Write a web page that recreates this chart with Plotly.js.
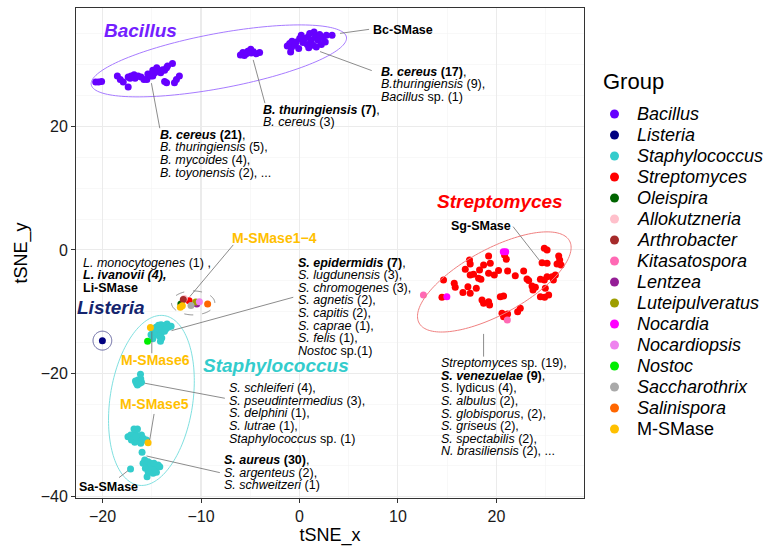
<!DOCTYPE html>
<html>
<head>
<meta charset="utf-8">
<script src="https://cdn.plot.ly/plotly-3.0.1.min.js"></script>
<style>html,body{margin:0;padding:0;background:#fff;}#chart{width:766px;height:546px;}</style>
</head>
<body>
<div id="chart"></div>
<script>
// ---------------- DATA (tSNE coordinates) ----------------
const groups = ['Bacillus','Listeria','Staphylococcus','Streptomyces','Oleispira','Allokutzneria','Arthrobacter','Kitasatospora','Lentzea','Luteipulveratus','Nocardia','Nocardiopsis','Nostoc','Saccharothrix','Salinispora','M-SMase'];
const groupColors = ['#6600FF','#000080','#33CCCC','#FF0000','#006400','#FFC0CB','#A52A2A','#FF69B4','#941E96','#9E9E00','#FF00FF','#EE82EE','#00EE00','#A9A9A9','#FF6600','#FFC000'];

const bacillusX = [-20.7,-20.4,-20.1,-18.5,-18.2,-17.9,-17.4,-17.2,-17.1,-16.8,-16.7,-16.4,-16.1,-15.8,-15.5,-15.4,-15.1,-14.9,-14.9,-14.7,-14.5,-14.4,-14.1,-13.9,-13.7,-13.5,-13.4,-12.9,-13.7,-13.5,-12.7,-12.5,-12.2,-17.4,
  -6.0,-5.75,-5.4,-5.25,-4.95,-4.7,-4.4,-4.05,-5.6,-4.9,
  -1.24,-1.0,-0.83,-0.76,-0.49,-0.33,-0.08,0.02,0.18,0.36,0.53,0.79,0.86,1.04,1.2,1.37,1.48,1.61,1.71,1.88,2.05,2.22,2.39,2.62,2.73,3.31,-0.9,0.94];
const bacillusY = [27.2,27.2,27.3,28.2,27.6,27.2,26.4,27.8,28.2,28.4,27.8,28.2,28.0,27.6,27.6,28.5,28.2,29.1,28.2,28.7,29.5,29.0,28.7,29.2,29.1,29.5,29.8,30.2,27.3,27.1,27.1,27.6,28.2,28.0,
  31.6,32.0,31.8,32.2,32.5,32.1,31.8,32.0,31.5,31.9,
  33.06,33.44,32.74,33.82,33.18,33.71,32.63,34.25,34.8,33.6,34.25,33.27,34.52,35.06,33.99,33.18,35.33,34.52,32.9,33.99,34.89,33.27,34.36,33.71,34.8,34.8,32.09,32.74];

const listeriaX = [-20.02];
const listeriaY = [-14.70];

const staphX = [-14.9,-14.57,-14.32,-14.06,-13.89,-13.65,-13.45,-13.31,-13.04,-14.39,-14.06,-13.71,-14.22,-13.99,-14.12,-14.73,-15.08,-14.9,-13.58,
  -16.33,-16.56,-16.12,-16.4,-16.66,-16.23,-16.46,-16.05,-16.15,-16.28,
  -17.42,-17.14,-16.91,-16.66,-16.46,-16.81,-16.33,-16.05,-15.89,-15.72,-16.4,-16.73,-16.12,-17.07,-15.99,-15.54,-16.63,
  -15.72,-15.89,-15.54,-15.38,-15.21,-15.65,-15.38,-15.04,-14.87,-14.7,-14.36,-15.11,-14.78,-14.53,-14.19,-15.48,
  -17.16];
const staphY = [-12.92,-12.53,-12.2,-12.11,-12.53,-12.2,-11.99,-12.53,-12.37,-13.18,-13.45,-13.18,-13.99,-14.26,-14.8,-13.73,-13.73,-14.38,-12.8,
  -21.35,-21.6,-20.91,-21.07,-21.23,-21.6,-21.88,-21.44,-20.15,-21.56,
  -30.26,-29.98,-30.52,-29.71,-29.01,-29.01,-30.26,-29.98,-30.52,-30.79,-30.96,-31.17,-31.33,-30.79,-32.79,-30.79,-30.31,
  -34.04,-34.57,-34.85,-34.31,-35.12,-35.38,-35.93,-35.66,-36.19,-35.38,-34.85,-34.57,-34.57,-36.03,-35.12,-36.74,
  -35.49];

const streptoX = [14.63,14.47,15.72,15.82,16.6,17.11,17.34,17.96,17.27,17.34,16.84,17.34,17.68,18.29,18.19,18.43,18.7,19.21,19.38,19.21,19.79,20.22,21.01,20.83,21.14,21.92,22.77,
  18.54,18.7,19.21,19.31,20.4,20.73,20.57,20.73,21.14,22.16,22.43,23.11,23.62,23.72,23.96,24.47,24.87,25.15,25.66,24.97,24.47,24.9,25.31,
  24.87,25.15,24.64,25.15,26.33,26.43,26.57,26.16,25.99,23.28,25.79,-11.21];
const streptoY = [-4.86,-7.67,-5.4,-6.05,-6.92,-5.95,-7.02,-6.21,-1.62,-2.27,-3.13,-4.05,-3.94,-3.24,-4.59,-4.75,-2.43,-0.97,-2.16,-3.78,-4.05,-3.35,-1.51,-0.81,-3.4,-4.17,-3.4,
  -8.1,-8.64,-8.38,-8.91,-7.57,-7.46,-10.26,-10.81,-10.37,-10.0,-9.45,-4.7,-5.83,-6.48,-6.05,-4.75,-4.86,-4.33,-4.33,-6.21,-7.57,-7.67,-7.29,
  0.28,0.0,-2.06,-2.16,-0.97,-1.62,-2.43,-2.27,-4.05,-4.94,-4.86,-8.22];

const oleispiraX = [-12.05];        const oleispiraY = [-8.75];
const allokutzneriaX = [-11.70];    const allokutzneriaY = [-7.86];
const arthrobacterX = [-11.80];     const arthrobacterY = [-8.02];
const kitasatosporaX = [12.59,21.11]; const kitasatosporaY = [-7.29,-11.35];
const lentzeaX = [-10.43];          const lentzeaY = [-8.78];
const luteipulveratusX = [-10.53];  const luteipulveratusY = [-8.43];
const nocardiaX = [14.97,20.7,20.95]; const nocardiaY = [-7.57,-0.3,-0.3];
const nocardiopsisX = [-10.17];     const nocardiopsisY = [-8.40];
const nostocX = [-15.43];           const nostocY = [-14.78];
const saccharothrixX = [-11.02];    const saccharothrixY = [-9.0];
const salinisporaX = [-9.33];       const salinisporaY = [-8.75];
const msmaseX = [-12.1,-11.9,-15.14,-15.38]; const msmaseY = [-9.3,-9.05,-12.56,-31.23];

const xTickVals = [-20,-10,0,10,20];
const yTickVals = [-40,-20,0,20];

// ---------------- traces ----------------
const seriesX = [bacillusX,listeriaX,staphX,streptoX,oleispiraX,allokutzneriaX,arthrobacterX,kitasatosporaX,lentzeaX,luteipulveratusX,nocardiaX,nocardiopsisX,nostocX,saccharothrixX,salinisporaX,msmaseX];
const seriesY = [bacillusY,listeriaY,staphY,streptoY,oleispiraY,allokutzneriaY,arthrobacterY,kitasatosporaY,lentzeaY,luteipulveratusY,nocardiaY,nocardiopsisY,nostocY,saccharothrixY,salinisporaY,msmaseY];

const FONT = 'Liberation Sans, Arial, sans-serif';
const traces = groups.map((g,i)=>({
  type:'scatter', mode:'markers', name:g,
  x:seriesX[i], y:seriesY[i],
  marker:{color:groupColors[i], size:7, line:{width:0}},
  showlegend:false, hoverinfo:'skip'
}));

// ---------------- ellipses ----------------
function ellipsePath(c,u,v){
  let s=''; const n=160;
  for(let i=0;i<=n;i++){
    const t=2*Math.PI*i/n;
    const x=c[0]+u[0]*Math.cos(t)+v[0]*Math.sin(t);
    const y=c[1]+u[1]*Math.cos(t)+v[1]*Math.sin(t);
    s+=(i?'L':'M')+x.toFixed(3)+','+y.toFixed(3);
  }
  return s+'Z';
}
const shapes = [];
const ell = [
  {c:[-8.19,30.63], u:[12.96,3.865], v:[-0.513,4.365], col:'#A77BFF', dash:'solid'},
  {c:[19.79,-5.19], u:[7.638,6.662], v:[-1.593,4.634], col:'#F08080', dash:'solid'},
  {c:[-15.04,-24.39], u:[1.0,13.78], v:[4.24,0], col:'#7FE0E0', dash:'solid'},
  {c:[-20.02,-14.70], u:[0.95,0], v:[0,1.53], col:'#5A5A9A', dash:'solid'},
  {c:[-10.80,-8.59], u:[2.2,0], v:[0,1.94], col:'#8C8C8C', dash:'dash'}
];
ell.forEach(e=>shapes.push({type:'path', xref:'x', yref:'y', path:ellipsePath(e.c,e.u,e.v), line:{color:e.col,width:1,dash:e.dash}, layer:'above'}));

// leader lines (data coords)
const leaders = [
  [7.07,35.74,4.12,35.09],[2.09,32.14,7.34,29.06],[-4.70,30.79,-3.51,23.78],[-15.04,27.02,-14.19,19.72],
  [-6.73,0.81,-11.14,-7.57],[-0.63,-7.67,-13.0,-13.08],[-15.0,-13.24,-15.0,-16.74],[-15.72,-21.60,-7.58,-24.04],
  [-14.77,-26.58,-15.21,-30.79],[-15.54,-33.39,-8.09,-36.09],[-18.33,-36.90,-17.42,-35.77],[21.69,3.78,24.39,-1.73],
  [18.70,-13.61,18.70,-17.29]
];
leaders.forEach(l=>shapes.push({type:'line', xref:'x', yref:'y', x0:l[0], y0:l[1], x1:l[2], y1:l[3], line:{color:'#6E6E6E', width:0.8}}));

// ---------------- annotations ----------------
const annotations = [];
function label(x,y,text,size,color){
  annotations.push({x,y,xref:'x',yref:'y',text,showarrow:false,xanchor:'center',yanchor:'middle',font:{family:FONT,size,color}});
}
label(-16.12,35.49,'<b><i>Bacillus</i></b>',19,'#7420FF');
label(20.40,7.83,'<b><i>Streptomyces</i></b>',19,'#FF0000');
label(-19.10,-9.29,'<b><i>Listeria</i></b>',19,'#14246E');
label(-2.42,-18.80,'<b><i>Staphylococcus</i></b>',19,'#33CCCC');
label(-2.52,1.90,'<b>M-SMase1\u22124</b>',14,'#FFC000');
label(-14.60,-17.91,'<b>M-SMase6</b>',14,'#FFC000');
label(-14.75,-24.96,'<b>M-SMase5</b>',14,'#FFC000');
label(10.51,35.66,'<b>Bc-SMase</b>',12.5,'#000000');
label(18.39,3.94,'<b>Sg-SMase</b>',12.5,'#000000');
label(-19.41,-38.36,'<b>Sa-SMase</b>',12.5,'#000000');

const blocks = [
  {x:-14.29,y:18.64,lines:['<b><i>B. cereus</i> (21)</b>,','<i>B. thuringiensis</i> (5),','<i>B. mycoides</i> (4),','<i>B. toyonensis</i> (2), ...']},
  {x:-3.78,y:22.69,lines:['<b><i>B. thuringiensis</i> (7)</b>,','<i>B. cereus</i> (3)']},
  {x:8.19,y:28.90,lines:['<b><i>B. cereus</i> (17)</b>,','<i>B.thuringiensis</i> (9),','<i>Bacillus</i> sp. (1)']},
  {x:-22.05,y:-2.06,lines:['<i>L. monocytogenes</i> (1) ,','<b><i>L. ivanovii (4),</i></b>','<b>Li-SMase</b>']},
  {x:-0.28,y:-2.06,lines:['<b><i>S. epidermidis</i> (7)</b>,','<i>S. lugdunensis</i> (3),','<i>S. chromogenes</i> (3),','<i>S. agnetis</i> (2),','<i>S. capitis</i> (2),','<i>S. caprae</i> (1),','<i>S. felis</i> (1),','<i>Nostoc</i> sp.(1)']},
  {x:-7.24,y:-22.41,lines:['<i>S. schleiferi</i> (4),','<i>S. pseudintermedius</i> (3),','<i>S. delphini</i> (1),','<i>S. lutrae</i> (1),','<i>Staphylococcus</i> sp. (1)']},
  {x:-7.75,y:-34.04,lines:['<b><i>S. aureus</i> (30)</b>,','<i>S. argenteus</i> (2),','<i>S. schweitzeri</i> (1)']},
  {x:14.29,y:-18.36,lines:['<i>Streptomyces</i> sp. (19),','<b><i>S. venezuelae</i> (9)</b>,','S. lydicus (4),','<i>S. albulus</i> (2),','<i>S. globisporus</i>, (2),','<i>S. griseus</i> (2),','<i>S. spectabilis</i> (2),','<i>N. brasiliensis</i> (2), ...']}
];
blocks.forEach(b=>b.lines.forEach((t,i)=>annotations.push({
  x:b.x,y:b.y,xref:'x',yref:'y',text:t,showarrow:false,xanchor:'left',yanchor:'middle',
  yshift:-i*12.6,borderpad:0,font:{family:FONT,size:12.5,color:'#000000'}
})));

// ---------------- custom legend (ggplot-like spacing) ----------------
const M = {l:76,r:182,t:8,b:48}, W=766, H=546;
const pw = W-M.l-M.r, ph = H-M.t-M.b;
const paperX = px => (px-M.l)/pw;
const paperY = py => (H-M.b-py)/ph;
annotations.push({xref:'paper',yref:'paper',x:paperX(602),y:paperY(81),text:'Group',showarrow:false,xanchor:'left',yanchor:'middle',borderpad:0,font:{family:FONT,size:22,color:'#000000'}});
groups.forEach((g,i)=>{
  const py = 114 + i*21.0;
  shapes.push({type:'circle',xref:'paper',yref:'paper',xsizemode:'pixel',ysizemode:'pixel',xanchor:paperX(614.5),yanchor:paperY(py),x0:-4.5,x1:4.5,y0:-4.5,y1:4.5,fillcolor:groupColors[i],line:{width:0}});
  annotations.push({xref:'paper',yref:'paper',x:paperX(636),y:paperY(py),text:(g==='M-SMase'?g:'<i>'+g+'</i>'),showarrow:false,xanchor:'left',yanchor:'middle',borderpad:0,font:{family:FONT,size:18,color:'#000000'}});
});

const axisCommon = {
  showgrid:true, gridcolor:'#EBEBEB', gridwidth:1.1, zeroline:false,
  showline:true, mirror:true, linecolor:'#333333', linewidth:1,
  ticks:'outside', ticklen:4, tickcolor:'#333333', tickwidth:1,
  tickfont:{family:FONT,size:16,color:'#1A1A1A'},
  minor:{dtick:5, showgrid:true, gridcolor:'#F3F3F3', gridwidth:0.6, ticks:''}
};
const layout = {
  width:W, height:H, margin:M, paper_bgcolor:'#FFFFFF', plot_bgcolor:'#FFFFFF', showlegend:false,
  xaxis:Object.assign({}, axisCommon, {range:[-22.7,28.9], tickmode:'array', tickvals:xTickVals, title:{text:'tSNE_x', font:{family:FONT,size:18,color:'#000000'}, standoff:8}}),
  yaxis:Object.assign({}, axisCommon, {range:[-40.2,39.2], tickmode:'array', tickvals:yTickVals, title:{text:'tSNE_y', font:{family:FONT,size:18,color:'#000000'}, standoff:8}}),
  shapes, annotations
};
Plotly.newPlot('chart', traces, layout, {displayModeBar:false, staticPlot:true});
</script>
</body>
</html>
